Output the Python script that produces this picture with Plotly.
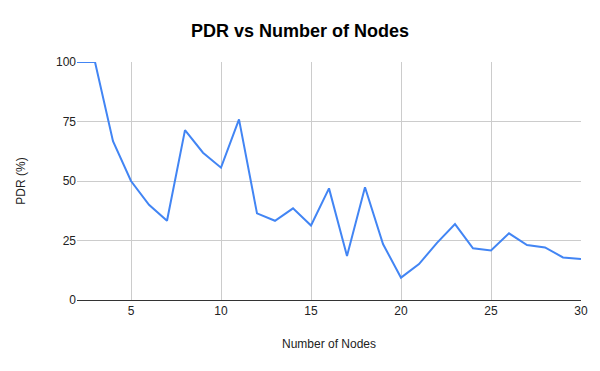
import plotly.graph_objects as go

nodes = list(range(2, 31))
pdr = [100, 100, 66.7, 50, 40, 33.3, 71.4, 61.9, 55.6, 75.9, 36.4, 33.3, 38.5, 31.3,
       46.9, 18.5, 47.4, 23.5, 9.4, 15.1, 24.0, 31.9, 21.7, 20.8, 28.0, 23.1, 22.1, 17.9, 17.2]

x_ticks = [5, 10, 15, 20, 25, 30]
y_ticks = [0, 25, 50, 75, 100]

fig = go.Figure()
fig.add_trace(go.Scatter(x=nodes, y=pdr, mode="lines",
                         line=dict(color="#4285F4", width=2), showlegend=False))

fig.update_layout(
    width=600, height=371,
    margin=dict(l=77, r=19, t=62, b=71),
    paper_bgcolor="white", plot_bgcolor="white",
    font=dict(family="Liberation Sans, Arial, sans-serif", size=12, color="#222222"),
    title=dict(text="<b>PDR vs Number of Nodes</b>", x=0.5, xanchor="center",
               y=0.918, yanchor="middle",
               font=dict(size=18, color="#000000")),
    xaxis=dict(range=[2, 30], tickvals=x_ticks, showgrid=True, gridcolor="#cccccc",
               gridwidth=1, zeroline=False, showline=True, linecolor="#333333", linewidth=1,
               ticks="", ticklen=0,
               title=dict(text="Number of Nodes", standoff=22, font=dict(size=12))),
    yaxis=dict(range=[0, 100], tickvals=y_ticks, showgrid=True, gridcolor="#cccccc",
               gridwidth=1, zeroline=False, showline=False, ticks="",
               title=dict(text="PDR (%)", standoff=27, font=dict(size=12))),
)

fig.write_html("out.html", config={"displayModeBar": False},
               post_script="document.body.style.margin='0';document.body.style.overflow='hidden';")
